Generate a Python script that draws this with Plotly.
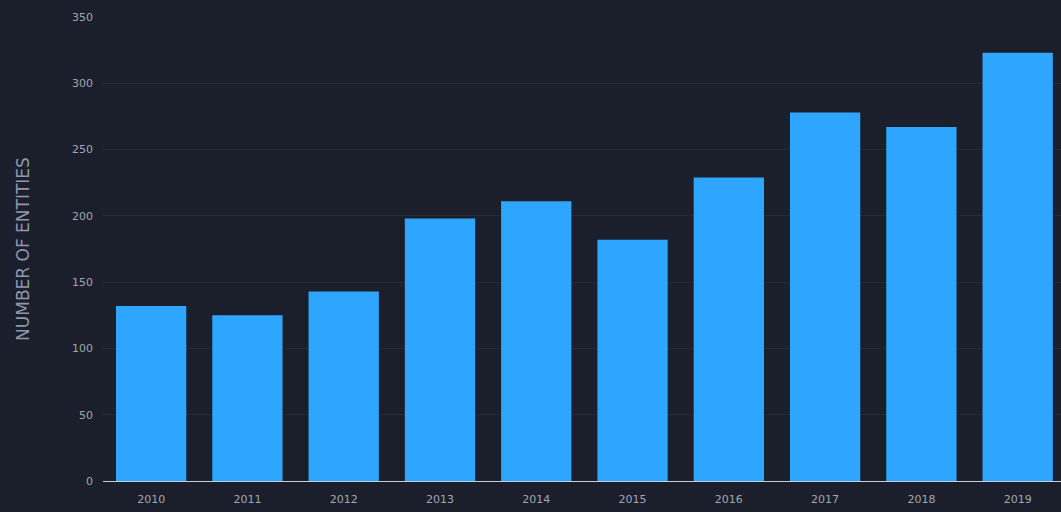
import plotly.graph_objects as go

years = ["2010", "2011", "2012", "2013", "2014", "2015", "2016", "2017", "2018", "2019"]
entities = [132, 125, 143, 198, 211, 182, 229, 278, 267, 323]
y_ticks = [0, 50, 100, 150, 200, 250, 300, 350]

bg = "#1b1f2c"
txt = "#9ea6b6"

fig = go.Figure(go.Bar(
    x=years, y=entities,
    marker=dict(color="#2ea6ff", line=dict(width=0)),
))

fig.update_layout(
    width=1061, height=512,
    paper_bgcolor=bg, plot_bgcolor=bg,
    margin=dict(l=103, r=0, t=17, b=31),
    bargap=0.27,
    showlegend=False,
    font=dict(family="DejaVu Sans", color=txt, size=11),
)
fig.update_xaxes(
    type="category", range=[-0.5, 9.45],
    showgrid=False, showline=True, linecolor="#c8ccd4", linewidth=1,
    ticks="", ticklabelstandoff=8, tickfont=dict(size=11, color=txt),
)
fig.update_yaxes(
    range=[0, 350], tickvals=y_ticks,
    showgrid=True, gridcolor="#262b38", gridwidth=1,
    zeroline=False, ticks="", ticklabelstandoff=9,
    tickfont=dict(size=11, color=txt),
    title=dict(text="NUMBER OF ENTITIES", font=dict(size=17, color="#8f98aa"), standoff=38),
)

fig.write_html("out.html", config={"displayModeBar": False},
               post_script="document.body.style.margin='0';document.body.style.overflow='hidden';")
